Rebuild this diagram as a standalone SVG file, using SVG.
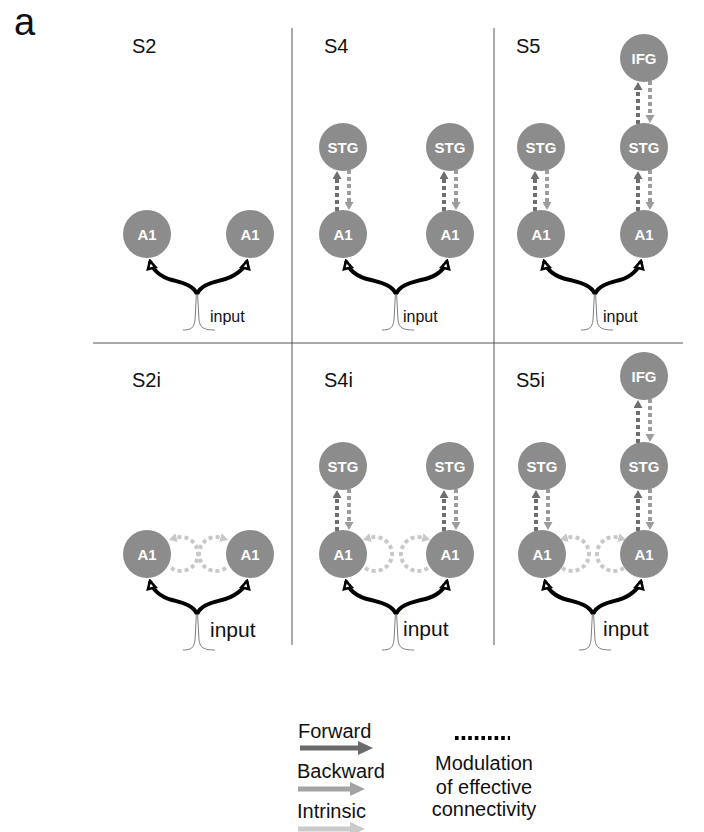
<svg xmlns="http://www.w3.org/2000/svg" width="704" height="832" viewBox="0 0 704 832">
  <style>
    .lbl { font-family: "Liberation Sans", Arial, sans-serif; font-size: 20px; fill: #111; }
    .inp-s { font-family: "Liberation Sans", Arial, sans-serif; font-size: 16px; fill: #111; }
    .inp-l { font-family: "Liberation Sans", Arial, sans-serif; font-size: 21px; fill: #111; }
    .node circle { fill: #8c8c8c; }
    .node text { font-family: "Liberation Sans", Arial, sans-serif; font-size: 15px; font-weight: bold; fill: #fff; text-anchor: middle; }
    .div { stroke: #555; stroke-width: 1; fill: none; }
    .fwd { stroke: #6e6e6e; stroke-width: 4; stroke-dasharray: 4 3; fill: none; marker-end: url(#hFwd); }
    .bwd { stroke: #9c9c9c; stroke-width: 4; stroke-dasharray: 4 3; fill: none; marker-end: url(#hBwd); }
    .intr { stroke: #c8c8c8; stroke-width: 4; stroke-dasharray: 4 3; fill: none; marker-end: url(#hIntr); }
    .drive { stroke: #000; stroke-width: 4; fill: none; marker-end: url(#hDrive); }
    .spike { stroke: #808080; stroke-width: 1; fill: none; }
  </style>
  <defs>
    <marker id="hFwd" viewBox="0 0 8 9" refX="0" refY="4.5" markerWidth="8" markerHeight="9" markerUnits="userSpaceOnUse" orient="auto">
      <path d="M0,0 L8,4.5 L0,9 z" fill="#6e6e6e"/>
    </marker>
    <marker id="hBwd" viewBox="0 0 8 9" refX="0" refY="4.5" markerWidth="8" markerHeight="9" markerUnits="userSpaceOnUse" orient="auto">
      <path d="M0,0 L8,4.5 L0,9 z" fill="#9c9c9c"/>
    </marker>
    <marker id="hIntr" viewBox="0 0 8 9" refX="0" refY="4.5" markerWidth="8" markerHeight="9" markerUnits="userSpaceOnUse" orient="auto">
      <path d="M0,0 L8,4.5 L0,9 z" fill="#c8c8c8"/>
    </marker>
    <marker id="hDrive" viewBox="-2 -2 12 12" refX="7.5" refY="4" markerWidth="12" markerHeight="12" markerUnits="userSpaceOnUse" orient="auto">
      <path d="M0,0 L7.5,4 L0,8 z" fill="#fff" stroke="#000" stroke-width="2.6" stroke-linejoin="miter"/>
    </marker>
  </defs>

  <rect width="704" height="832" fill="#fff"/>

  <!-- panel letter -->
  <text x="14" y="35" style="font-family: 'Liberation Sans', Arial, sans-serif; font-size: 38px; fill: #111;">a</text>

  <!-- panel dividers -->
  <g id="dividers">
    <line class="div" x1="93" y1="343" x2="683" y2="343"/>
    <line class="div" x1="292" y1="28" x2="292" y2="645"/>
    <line class="div" x1="494" y1="28" x2="494" y2="645"/>
  </g>

  <!-- model labels -->
  <g id="labels">
    <text class="lbl" x="132" y="53">S2</text>
    <text class="lbl" x="324" y="53">S4</text>
    <text class="lbl" x="516" y="53">S5</text>
    <text class="lbl" x="132" y="387">S2i</text>
    <text class="lbl" x="324" y="387">S4i</text>
    <text class="lbl" x="516" y="387">S5i</text>
  </g>

  <!-- stimulus traces and input labels -->
  <g id="inputs">
    <path class="spike" d="M183,330 C191,330 194,328 195,320 L196.4,294 L197.6,294 L199,320 C200,328 204,330 215,330"/>
    <path class="spike" d="M382,330 C390,330 393,328 394,320 L395.4,294 L396.6,294 L398,320 C399,328 403,330 414,330"/>
    <path class="spike" d="M581,330 C589,330 592,328 593,320 L594.4,294 L595.6,294 L597,320 C598,328 602,330 613,330"/>
    <path class="spike" d="M183,650 C191,650 194,648 195,640 L196.4,614 L197.6,614 L199,640 C200,648 204,650 215,650"/>
    <path class="spike" d="M382,650 C390,650 393,648 394,640 L395.4,614 L396.6,614 L398,640 C399,648 403,650 414,650"/>
    <path class="spike" d="M579,650 C587,650 590,648 591,640 L592.4,614 L593.6,614 L595,640 C596,648 600,650 611,650"/>
    <text class="inp-s" x="210" y="322">input</text>
    <text class="inp-s" x="403" y="322">input</text>
    <text class="inp-s" x="603" y="322">input</text>
    <text class="inp-l" x="210" y="637">input</text>
    <text class="inp-l" x="403" y="636">input</text>
    <text class="inp-l" x="603" y="636">input</text>
  </g>

  <!-- connections -->
  <g id="connectors">
    <!-- driving input to A1 -->
    <path class="drive" d="M197,294 C193,285 183,283 172,280 C160,277 152,269 150,261"/>
    <path class="drive" d="M197,294 C201,285 211,283 222,280 C234,277 245,269 247,261"/>
    <path class="drive" d="M396,294 C392,285 382,283 371,280 C356,277 348,269 346,261"/>
    <path class="drive" d="M396,294 C400,285 410,283 421,280 C437,277 445,269 447,261"/>
    <path class="drive" d="M595,294 C591,285 581,283 570,280 C554,277 546,269 544,261"/>
    <path class="drive" d="M595,294 C599,285 609,283 620,280 C631,277 639,269 641,261"/>
    <path class="drive" d="M197,614 C193,605 183,603 172,600 C160,597 152,589 150,581"/>
    <path class="drive" d="M197,614 C201,605 211,603 222,600 C234,597 245,589 247,581"/>
    <path class="drive" d="M396,614 C392,605 382,603 371,600 C356,597 348,589 346,581"/>
    <path class="drive" d="M396,614 C400,605 410,603 421,600 C437,597 445,589 447,581"/>
    <path class="drive" d="M593,614 C589,605 579,603 568,600 C555,597 547,589 545,581"/>
    <path class="drive" d="M593,614 C597,605 607,603 618,600 C629,597 639,589 641,581"/>

    <!-- S4 forward / backward -->
    <path class="fwd" d="M337,211 L337,179"/>
    <path class="bwd" d="M349,170 L349,202"/>
    <path class="fwd" d="M444,211 L444,179"/>
    <path class="bwd" d="M456,170 L456,202"/>
    <!-- S5 forward / backward -->
    <path class="fwd" d="M535,211 L535,179"/>
    <path class="bwd" d="M547,170 L547,202"/>
    <path class="fwd" d="M638,211 L638,179"/>
    <path class="bwd" d="M650,170 L650,202"/>
    <path class="fwd" d="M638,124 L638,90"/>
    <path class="bwd" d="M650,81 L650,115"/>
    <!-- S4i forward / backward -->
    <path class="fwd" d="M337,531 L337,498"/>
    <path class="bwd" d="M349,489 L349,522"/>
    <path class="fwd" d="M444,531 L444,498"/>
    <path class="bwd" d="M456,489 L456,522"/>
    <!-- S5i forward / backward -->
    <path class="fwd" d="M536,531 L536,498"/>
    <path class="bwd" d="M548,489 L548,522"/>
    <path class="fwd" d="M638,531 L638,498"/>
    <path class="bwd" d="M650,489 L650,522"/>
    <path class="fwd" d="M638,443 L638,408"/>
    <path class="bwd" d="M650,399 L650,434"/>

    <!-- intrinsic self-connections on A1 -->
    <path class="intr" d="M171.2,567.9 A17,17 0 1 0 176.6,537.6"/>
    <path class="intr" d="M225.8,567.9 A17,17 0 1 1 220.4,537.6"/>
    <path class="intr" d="M365.2,567.9 A17,17 0 1 0 370.6,537.6"/>
    <path class="intr" d="M427.8,567.9 A17,17 0 1 1 422.4,537.6"/>
    <path class="intr" d="M562.2,567.9 A17,17 0 1 0 567.6,537.6"/>
    <path class="intr" d="M623.8,567.9 A17,17 0 1 1 618.4,537.6"/>
  </g>

  <!-- S2 -->
  <g id="s2-a1-left" class="node"><circle cx="147" cy="234" r="24"/><text x="147" y="239.5">A1</text></g>
  <g id="s2-a1-right" class="node"><circle cx="250" cy="234" r="24"/><text x="250" y="239.5">A1</text></g>
  <!-- S4 -->
  <g id="s4-stg-left" class="node"><circle cx="343" cy="147" r="24"/><text x="343" y="152.5">STG</text></g>
  <g id="s4-stg-right" class="node"><circle cx="450" cy="147" r="24"/><text x="450" y="152.5">STG</text></g>
  <g id="s4-a1-left" class="node"><circle cx="343" cy="234" r="24"/><text x="343" y="239.5">A1</text></g>
  <g id="s4-a1-right" class="node"><circle cx="450" cy="234" r="24"/><text x="450" y="239.5">A1</text></g>
  <!-- S5 -->
  <g id="s5-ifg" class="node"><circle cx="644" cy="58" r="24"/><text x="644" y="63.5">IFG</text></g>
  <g id="s5-stg-left" class="node"><circle cx="541" cy="147" r="24"/><text x="541" y="152.5">STG</text></g>
  <g id="s5-stg-right" class="node"><circle cx="644" cy="147" r="24"/><text x="644" y="152.5">STG</text></g>
  <g id="s5-a1-left" class="node"><circle cx="541" cy="234" r="24"/><text x="541" y="239.5">A1</text></g>
  <g id="s5-a1-right" class="node"><circle cx="644" cy="234" r="24"/><text x="644" y="239.5">A1</text></g>
  <!-- S2i -->
  <g id="s2i-a1-left" class="node"><circle cx="147" cy="554" r="24"/><text x="147" y="559.5">A1</text></g>
  <g id="s2i-a1-right" class="node"><circle cx="250" cy="554" r="24"/><text x="250" y="559.5">A1</text></g>
  <!-- S4i -->
  <g id="s4i-stg-left" class="node"><circle cx="343" cy="466" r="24"/><text x="343" y="471.5">STG</text></g>
  <g id="s4i-stg-right" class="node"><circle cx="450" cy="466" r="24"/><text x="450" y="471.5">STG</text></g>
  <g id="s4i-a1-left" class="node"><circle cx="343" cy="554" r="24"/><text x="343" y="559.5">A1</text></g>
  <g id="s4i-a1-right" class="node"><circle cx="450" cy="554" r="24"/><text x="450" y="559.5">A1</text></g>
  <!-- S5i -->
  <g id="s5i-ifg" class="node"><circle cx="644" cy="376" r="24"/><text x="644" y="381.5">IFG</text></g>
  <g id="s5i-stg-left" class="node"><circle cx="542" cy="466" r="24"/><text x="542" y="471.5">STG</text></g>
  <g id="s5i-stg-right" class="node"><circle cx="644" cy="466" r="24"/><text x="644" y="471.5">STG</text></g>
  <g id="s5i-a1-left" class="node"><circle cx="542" cy="554" r="24"/><text x="542" y="559.5">A1</text></g>
  <g id="s5i-a1-right" class="node"><circle cx="644" cy="554" r="24"/><text x="644" y="559.5">A1</text></g>

  <!-- legend -->
  <g id="legend">
    <text class="lbl" x="298" y="738">Forward</text>
    <line x1="300" y1="748" x2="360" y2="748" stroke="#6a6a6a" stroke-width="5"/>
    <polygon points="358,741 373,748 358,755" fill="#6a6a6a"/>
    <text class="lbl" x="297" y="778">Backward</text>
    <line x1="298" y1="789" x2="352" y2="789" stroke="#a3a3a3" stroke-width="5"/>
    <polygon points="350,782 365,789 350,796" fill="#a3a3a3"/>
    <text class="lbl" x="297" y="818">Intrinsic</text>
    <line x1="298" y1="829" x2="352" y2="829" stroke="#cacaca" stroke-width="5"/>
    <polygon points="350,822 365,829 350,836" fill="#cacaca"/>
    <line x1="455" y1="738" x2="510" y2="738" stroke="#000" stroke-width="4" stroke-dasharray="3.6 3"/>
    <text class="lbl" x="484" y="770" text-anchor="middle">Modulation</text>
    <text class="lbl" x="484" y="794" text-anchor="middle">of effective</text>
    <text class="lbl" x="484" y="816" text-anchor="middle">connectivity</text>
  </g>
</svg>
